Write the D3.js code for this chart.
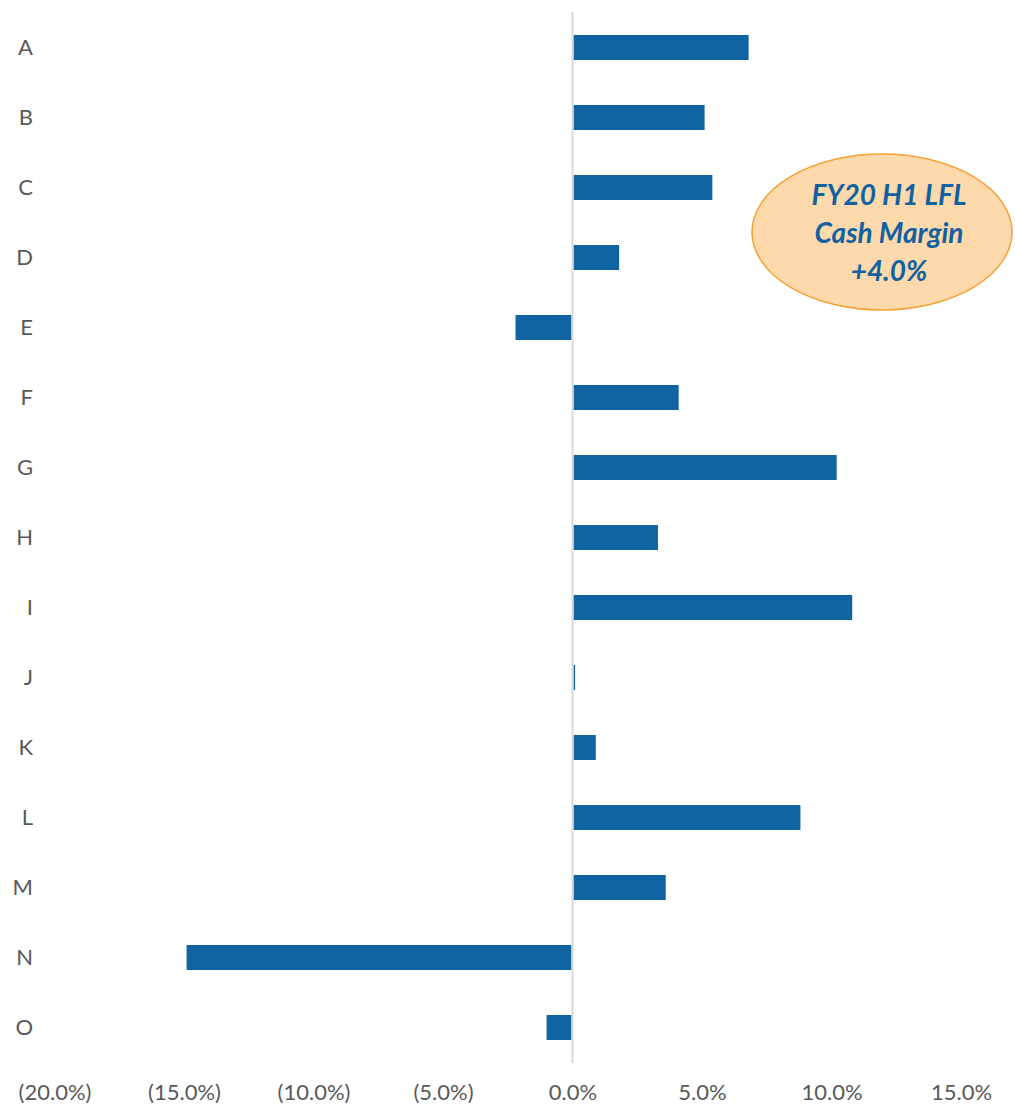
<!DOCTYPE html>
<html><head><meta charset="utf-8">
<script src="https://cdn.jsdelivr.net/npm/d3@7"></script>
<style>body{margin:0;background:#fff}svg{display:block}text{font-family:Lato,"Open Sans",sans-serif}</style>
</head><body>
<script>
const categories = ["A","B","C","D","E","F","G","H","I","J","K","L","M","N","O"];
const values = [6.8, 5.1, 5.4, 1.8, -2.2, 4.1, 10.2, 3.3, 10.8, 0.1, 0.9, 8.8, 3.6, -14.9, -1.0];
const tickValues = [-20, -15, -10, -5, 0, 5, 10, 15];
const calloutLines = ["FY20 H1 LFL", "Cash Margin", "+4.0%"];

const W = 1015, H = 1106;
const svg = d3.select("body").append("svg").attr("width", W).attr("height", H);

const x = d3.scaleLinear().domain([-20, 15]).range([54.5, 961]);
const y = d3.scaleBand().domain(categories).range([12.5, 1062.5]).paddingInner(0.643).paddingOuter(0.3215);

const fmt = v => v < 0 ? "(" + d3.format(".1f")(-v) + "%)" : d3.format(".1f")(v) + "%";

// bars
svg.append("g").selectAll("rect").data(values).join("rect")
  .attr("x", d => d >= 0 ? x(0) + 1 : x(d))
  .attr("width", d => Math.max(1, Math.abs(x(d) - x(0)) - 1))
  .attr("y", (d, i) => y(categories[i]))
  .attr("height", y.bandwidth())
  .attr("fill", "#1064a1");

// zero axis line
svg.append("line").attr("x1", x(0)).attr("x2", x(0)).attr("y1", 12).attr("y2", 1063)
  .attr("stroke", "#d9d9d9").attr("stroke-width", 2);

// category labels
const yAxis = d3.axisLeft(y).tickSize(0).tickPadding(0);
const gy = svg.append("g").attr("transform", "translate(33,0)").call(yAxis);
gy.select(".domain").remove();
gy.selectAll("text").attr("text-anchor", "end").attr("x", 0).attr("dy", "0.36em")
  .attr("fill", "#595959").style("font-size", "22px").style("font-family", "Lato, 'Open Sans', sans-serif");

// x tick labels
const xAxis = d3.axisBottom(x).tickValues(tickValues).tickFormat(fmt).tickSize(0).tickPadding(0);
const gx = svg.append("g").attr("transform", "translate(0,1084)").call(xAxis);
gx.select(".domain").remove();
gx.selectAll("text").attr("fill", "#595959").style("font-size", "22px").style("font-family", "Lato, 'Open Sans', sans-serif");

// callout
const cg = svg.append("g");
cg.append("ellipse").attr("cx", 882).attr("cy", 232).attr("rx", 130).attr("ry", 78)
  .attr("fill", "#fdd9ab").attr("stroke", "#f7a035").attr("stroke-width", 1.5);
cg.selectAll("text").data(calloutLines).join("text")
  .attr("x", 889).attr("y", (d, i) => 205 + i * 38)
  .attr("text-anchor", "middle")
  .attr("fill", "#1160a0")
  .style("font-size", "28px").style("font-weight", "bold").style("font-style", "italic")
  .text(d => d);
</script>
</body></html>
